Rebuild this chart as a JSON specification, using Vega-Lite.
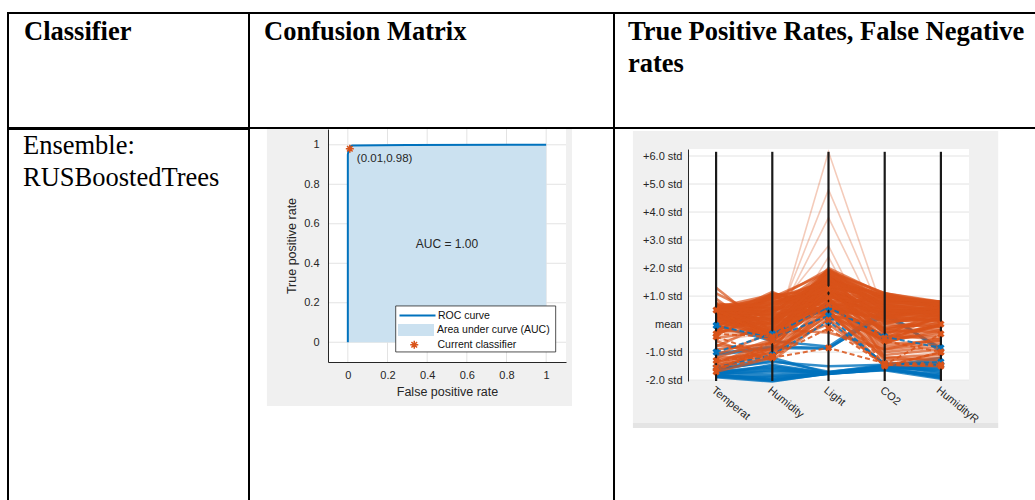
{
  "$schema": "https://vega.github.io/schema/vega-lite/v6.json",
  "padding": {"left": 7, "top": 12, "right": 0, "bottom": 0},
  "background": "white",
  "config": {"view": {"stroke": null}, "font": "Liberation Sans"},
  "datasets": {
    "roc": [
      {"fpr": 0, "tpr": 0},
      {"fpr": 0, "tpr": 0.95},
      {"fpr": 0.004, "tpr": 0.975},
      {"fpr": 0.01, "tpr": 0.99},
      {"fpr": 0.022, "tpr": 0.997},
      {"fpr": 0.3, "tpr": 0.999},
      {"fpr": 1, "tpr": 1}
    ],
    "clf": [{"fpr": 0.01, "tpr": 0.98, "label": "(0.01,0.98)"}],
    "rocgrid": [{"v": 0}, {"v": 0.2}, {"v": 0.4}, {"v": 0.6}, {"v": 0.8}, {"v": 1}],
    "pcgrid": [{"v": -2}, {"v": -1}, {"v": 0}, {"v": 1}, {"v": 2}, {"v": 3}, {"v": 4}, {"v": 5}, {"v": 6}],
    "dims": [{"dim": "T", "pos": 1}, {"dim": "H", "pos": 2}, {"dim": "L", "pos": 3}, {"dim": "C", "pos": 4}, {"dim": "R", "pos": 5}],
    "pc": [
      {"id": "b1", "c": "0", "k": "ok", "T": -1.85, "H": -2.0, "L": -1.75, "C": -1.6, "R": -1.9},
      {"id": "b2", "c": "0", "k": "ok", "T": -1.8, "H": -1.95, "L": -1.75, "C": -1.55, "R": -1.85},
      {"id": "b3", "c": "0", "k": "ok", "T": -1.75, "H": -1.8, "L": -1.75, "C": -1.5, "R": -1.7},
      {"id": "b4", "c": "0", "k": "ok", "T": -1.9, "H": -2.05, "L": -1.76, "C": -1.65, "R": -1.95},
      {"id": "b5", "c": "0", "k": "ok", "T": -1.7, "H": -1.6, "L": -1.75, "C": -1.55, "R": -1.5},
      {"id": "b6", "c": "0", "k": "ok", "T": -1.65, "H": -1.3, "L": -1.7, "C": -1.5, "R": -1.3},
      {"id": "b7", "c": "0", "k": "ok", "T": -1.8, "H": -1.45, "L": -1.75, "C": -1.6, "R": -1.6},
      {"id": "b8", "c": "0", "k": "ok", "T": -1.75, "H": -1.7, "L": -1.72, "C": -1.45, "R": -1.75},
      {"id": "b9", "c": "0", "k": "ok", "T": -1.85, "H": -1.85, "L": -1.78, "C": -1.62, "R": -1.85},
      {"id": "b10", "c": "0", "k": "ok", "T": -1.6, "H": -1.2, "L": -1.75, "C": -1.6, "R": -1.45},
      {"id": "b11", "c": "0", "k": "ok", "T": -1.1, "H": -0.85, "L": -0.88, "C": 0.4, "R": -0.9},
      {"id": "b12", "c": "0", "k": "ok", "T": -1.05, "H": -0.8, "L": -0.85, "C": 0.3, "R": -0.85},
      {"id": "b13", "c": "0", "k": "ok", "T": -0.05, "H": -0.6, "L": -0.8, "C": 0.5, "R": -1.0},
      {"id": "b14", "c": "0", "k": "ok", "T": -1.6, "H": -1.35, "L": -1.5, "C": -1.45, "R": -1.4},
      {"id": "b15", "c": "0", "k": "ok", "T": -1.7, "H": -1.5, "L": -1.75, "C": -1.5, "R": -1.2},
      {"id": "b16", "c": "0", "k": "ok", "T": -1.88, "H": -1.9, "L": -1.74, "C": -1.58, "R": -1.92},
      {"id": "b17", "c": "0", "k": "ok", "T": -1.78, "H": -1.65, "L": -1.76, "C": -1.52, "R": -1.65},
      {"id": "b18", "c": "0", "k": "ok", "T": -1.82, "H": -1.98, "L": -1.76, "C": -1.6, "R": -1.88},
      {"id": "b19", "c": "0", "k": "ok", "T": -1.72, "H": -1.55, "L": -1.74, "C": -1.56, "R": -1.55},
      {"id": "b20", "c": "0", "k": "ok", "T": -1.86, "H": -2.02, "L": -1.77, "C": -1.63, "R": -1.8},
      {"id": "o1", "c": "1", "k": "ok", "T": 0.6, "H": -0.5, "L": 1.8, "C": 0.9, "R": 0.7},
      {"id": "o2", "c": "1", "k": "ok", "T": 0.5, "H": -0.3, "L": 1.6, "C": 1.0, "R": 0.6},
      {"id": "o3", "c": "1", "k": "ok", "T": 0.4, "H": 0.9, "L": 0.5, "C": 0.2, "R": 0.3},
      {"id": "o4", "c": "1", "k": "ok", "T": -0.2, "H": 1.1, "L": 0.6, "C": -0.4, "R": 0.5},
      {"id": "o5", "c": "1", "k": "ok", "T": 0.7, "H": -0.6, "L": 1.9, "C": 1.1, "R": 0.8},
      {"id": "o6", "c": "1", "k": "ok", "T": 0.3, "H": 0.2, "L": 1.2, "C": 0.5, "R": 0.4},
      {"id": "o7", "c": "1", "k": "ok", "T": -0.1, "H": 0.8, "L": 0.9, "C": -0.2, "R": 0.2},
      {"id": "o8", "c": "1", "k": "ok", "T": 0.55, "H": -0.4, "L": 1.5, "C": 0.8, "R": 0.75},
      {"id": "o9", "c": "1", "k": "ok", "T": 0.65, "H": 0.0, "L": 1.4, "C": 0.6, "R": 0.5},
      {"id": "o10", "c": "1", "k": "ok", "T": -0.3, "H": 1.0, "L": 0.4, "C": -0.6, "R": 0.1},
      {"id": "o11", "c": "1", "k": "ok", "T": 0.1, "H": 0.5, "L": 1.0, "C": 0.3, "R": 0.6},
      {"id": "o12", "c": "1", "k": "ok", "T": 0.45, "H": -0.2, "L": 2.0, "C": 1.05, "R": 0.7},
      {"id": "o13", "c": "1", "k": "ok", "T": 1.3, "H": -0.3, "L": 1.7, "C": 0.7, "R": 0.5},
      {"id": "o14", "c": "1", "k": "ok", "T": 1.1, "H": 0.1, "L": 1.3, "C": 0.4, "R": 0.3},
      {"id": "o15", "c": "1", "k": "ok", "T": 0.9, "H": -0.5, "L": 1.6, "C": 0.9, "R": 0.65},
      {"id": "o16", "c": "1", "k": "ok", "T": -0.4, "H": 0.6, "L": 0.7, "C": -0.7, "R": 0.0},
      {"id": "o17", "c": "1", "k": "ok", "T": 0.2, "H": 1.15, "L": 0.3, "C": 0.0, "R": 0.45},
      {"id": "o18", "c": "1", "k": "ok", "T": 0.35, "H": 0.7, "L": 0.8, "C": 0.2, "R": 0.55},
      {"id": "o19", "c": "1", "k": "ok", "T": 0.6, "H": 0.3, "L": 1.1, "C": 0.75, "R": 0.8},
      {"id": "o20", "c": "1", "k": "ok", "T": 0.0, "H": 0.0, "L": 1.5, "C": 0.1, "R": 0.2},
      {"id": "o21", "c": "1", "k": "ok", "T": -0.35, "H": 0.4, "L": 1.2, "C": -0.3, "R": -0.1},
      {"id": "o22", "c": "1", "k": "ok", "T": 0.5, "H": 1.0, "L": 0.45, "C": 0.6, "R": 0.7},
      {"id": "o23", "c": "1", "k": "ok", "T": 0.7, "H": -0.1, "L": 1.85, "C": 1.1, "R": 0.6},
      {"id": "o24", "c": "1", "k": "ok", "T": 0.25, "H": 0.35, "L": 0.6, "C": -0.5, "R": 0.3},
      {"id": "o25", "c": "1", "k": "ok", "T": 0.45, "H": -0.6, "L": 1.0, "C": 0.3, "R": 0.1},
      {"id": "o26", "c": "1", "k": "ok", "T": 0.55, "H": 0.8, "L": 1.3, "C": 0.95, "R": 0.75},
      {"id": "o27", "c": "1", "k": "ok", "T": -0.2, "H": -0.4, "L": 1.7, "C": 0.5, "R": 0.4},
      {"id": "o28", "c": "1", "k": "ok", "T": 0.65, "H": 0.55, "L": 0.35, "C": -0.1, "R": 0.0},
      {"id": "o29", "c": "1", "k": "ok", "T": 0.3, "H": -0.55, "L": 1.4, "C": 0.0, "R": -0.1},
      {"id": "o30", "c": "1", "k": "ok", "T": 0.4, "H": 0.15, "L": 1.9, "C": 0.85, "R": 0.55},
      {"id": "o31", "c": "1", "k": "ok", "T": 0.15, "H": 0.95, "L": 1.0, "C": 0.4, "R": 0.65},
      {"id": "o32", "c": "1", "k": "ok", "T": 0.6, "H": 0.6, "L": 1.55, "C": 1.0, "R": 0.8},
      {"id": "o33", "c": "1", "k": "ok", "T": -0.3, "H": 0.2, "L": 0.9, "C": -0.65, "R": -0.2},
      {"id": "o34", "c": "1", "k": "ok", "T": 0.5, "H": -0.15, "L": 0.75, "C": 0.55, "R": 0.35},
      {"id": "o35", "c": "1", "k": "ok", "T": 0.75, "H": 0.4, "L": 1.75, "C": 0.7, "R": 0.45},
      {"id": "o36", "c": "1", "k": "ok", "T": 0.05, "H": 1.05, "L": 1.2, "C": 0.15, "R": 0.3},
      {"id": "o37", "c": "1", "k": "ok", "T": 0.45, "H": 0.0, "L": 0.55, "C": 0.2, "R": 0.15},
      {"id": "o38", "c": "1", "k": "ok", "T": 0.6, "H": -0.35, "L": 1.3, "C": 0.35, "R": 0.25},
      {"id": "o39", "c": "1", "k": "ok", "T": 0.35, "H": 0.5, "L": 1.65, "C": 0.65, "R": 0.55},
      {"id": "o40", "c": "1", "k": "ok", "T": -0.25, "H": 0.75, "L": 1.45, "C": 0.8, "R": 0.7},
      {"id": "o41", "c": "1", "k": "ok", "T": -1.3, "H": -0.9, "L": 0.6, "C": -0.8, "R": -0.6},
      {"id": "o42", "c": "1", "k": "ok", "T": -1.55, "H": -1.0, "L": 0.3, "C": -1.1, "R": -0.9},
      {"id": "o43", "c": "1", "k": "ok", "T": -1.7, "H": -1.2, "L": 0.9, "C": -1.3, "R": -1.2},
      {"id": "o44", "c": "1", "k": "ok", "T": -1.4, "H": -0.6, "L": 1.1, "C": -0.5, "R": -0.4},
      {"id": "o45", "c": "1", "k": "ok", "T": -0.9, "H": -0.7, "L": 0.4, "C": -1.0, "R": -0.8},
      {"id": "o46", "c": "1", "k": "ok", "T": -0.6, "H": -1.3, "L": 0.2, "C": -1.45, "R": -1.5},
      {"id": "o47", "c": "1", "k": "ok", "T": -1.1, "H": -0.3, "L": 1.3, "C": -0.2, "R": -0.3},
      {"id": "o48", "c": "1", "k": "ok", "T": -0.75, "H": -0.95, "L": 1.6, "C": -1.2, "R": -1.3},
      {"id": "o49", "c": "1", "k": "ok", "T": -1.6, "H": -0.8, "L": 0.0, "C": -1.4, "R": -1.4},
      {"id": "o50", "c": "1", "k": "ok", "T": -0.5, "H": -0.2, "L": -0.3, "C": -0.9, "R": -0.7},
      {"id": "o51", "c": "1", "k": "ok", "T": -1.2, "H": -1.1, "L": 0.5, "C": -1.5, "R": -1.0},
      {"id": "o52", "c": "1", "k": "ok", "T": -0.8, "H": 0.1, "L": 1.8, "C": -0.4, "R": -0.55},
      {"id": "o53", "c": "1", "k": "ok", "T": -0.9, "H": -0.7, "L": 6.15, "C": 0.3, "R": -0.3},
      {"id": "o54", "c": "1", "k": "ok", "T": -0.6, "H": -0.3, "L": 4.8, "C": 0.1, "R": -0.2},
      {"id": "o55", "c": "1", "k": "ok", "T": -0.4, "H": -0.2, "L": 3.8, "C": -0.3, "R": -0.5},
      {"id": "o56", "c": "1", "k": "ok", "T": -0.2, "H": 0.3, "L": 2.8, "C": -1.2, "R": -1.0},
      {"id": "o57", "c": "1", "k": "ok", "T": -1.0, "H": -0.9, "L": 2.4, "C": -1.4, "R": -1.3},
      {"id": "o58", "c": "1", "k": "ok", "T": 0.55, "H": -0.45, "L": 1.35, "C": 0.9, "R": 0.6},
      {"id": "o59", "c": "1", "k": "ok", "T": 0.4, "H": 0.65, "L": 1.7, "C": 0.3, "R": 0.5},
      {"id": "o60", "c": "1", "k": "ok", "T": 0.7, "H": 0.2, "L": 0.6, "C": 1.0, "R": 0.7},
      {"id": "o61", "c": "1", "k": "ok", "T": -0.1, "H": 0.9, "L": 1.55, "C": 0.6, "R": 0.4},
      {"id": "o62", "c": "1", "k": "ok", "T": 0.25, "H": -0.25, "L": 0.95, "C": 0.75, "R": 0.65},
      {"id": "o63", "c": "1", "k": "ok", "T": 0.6, "H": 1.05, "L": 0.85, "C": -0.3, "R": 0.2},
      {"id": "o64", "c": "1", "k": "ok", "T": 0.1, "H": -0.5, "L": 1.8, "C": 0.45, "R": 0.35},
      {"id": "o65", "c": "1", "k": "ok", "T": 0.5, "H": 0.45, "L": 1.45, "C": 1.1, "R": 0.75},
      {"id": "o66", "c": "1", "k": "ok", "T": -0.15, "H": 0.1, "L": 0.55, "C": 0.25, "R": 0.55},
      {"id": "o67", "c": "1", "k": "ok", "T": 0.65, "H": -0.2, "L": 1.15, "C": -0.2, "R": 0.1},
      {"id": "o68", "c": "1", "k": "ok", "T": 0.3, "H": 0.85, "L": 1.95, "C": 0.9, "R": 0.6},
      {"id": "o69", "c": "1", "k": "ok", "T": 0.45, "H": 0.3, "L": 0.4, "C": 0.5, "R": 0.45},
      {"id": "o70", "c": "1", "k": "ok", "T": 0.2, "H": -0.6, "L": 1.6, "C": 0.95, "R": 0.8},
      {"id": "o71", "c": "1", "k": "ok", "T": 0.7, "H": 0.7, "L": 1.25, "C": 0.05, "R": 0.25},
      {"id": "o72", "c": "1", "k": "ok", "T": -0.3, "H": -0.1, "L": 1.05, "C": 0.65, "R": 0.5},
      {"id": "o73", "c": "1", "k": "ok", "T": 0.5, "H": 0.95, "L": 1.85, "C": 0.4, "R": 0.3},
      {"id": "o74", "c": "1", "k": "ok", "T": 0.35, "H": -0.3, "L": 0.7, "C": -0.45, "R": -0.05},
      {"id": "o75", "c": "1", "k": "ok", "T": 0.6, "H": 0.05, "L": 1.6, "C": 0.7, "R": 0.7},
      {"id": "o76", "c": "1", "k": "ok", "T": 0.15, "H": 0.6, "L": 0.45, "C": 0.85, "R": 0.6},
      {"id": "o77", "c": "1", "k": "ok", "T": 0.55, "H": -0.55, "L": 1.1, "C": 0.55, "R": 0.4},
      {"id": "o78", "c": "1", "k": "ok", "T": 0.4, "H": 0.4, "L": 1.75, "C": 1.0, "R": 0.65},
      {"id": "o79", "c": "1", "k": "ok", "T": -0.05, "H": 1.1, "L": 0.7, "C": 0.1, "R": 0.15},
      {"id": "o80", "c": "1", "k": "ok", "T": 0.7, "H": -0.35, "L": 1.45, "C": 0.25, "R": 0.55},
      {"id": "o81", "c": "1", "k": "ok", "T": 0.3, "H": 0.15, "L": 0.3, "C": -0.55, "R": 0.0},
      {"id": "o82", "c": "1", "k": "ok", "T": 0.5, "H": 0.75, "L": 1.2, "C": 0.75, "R": 0.75},
      {"id": "o83", "c": "1", "k": "ok", "T": 0.25, "H": -0.4, "L": 1.95, "C": 0.6, "R": 0.45},
      {"id": "o84", "c": "1", "k": "ok", "T": 0.65, "H": 0.35, "L": 0.9, "C": 0.35, "R": 0.6},
      {"id": "o85", "c": "1", "k": "ok", "T": -0.2, "H": 0.5, "L": 1.35, "C": 1.05, "R": 0.7},
      {"id": "o86", "c": "1", "k": "ok", "T": 0.45, "H": -0.05, "L": 1.7, "C": -0.15, "R": 0.2},
      {"id": "o87", "c": "1", "k": "ok", "T": 0.05, "H": 0.25, "L": 0.65, "C": 0.5, "R": 0.35},
      {"id": "o88", "c": "1", "k": "ok", "T": 0.6, "H": 0.9, "L": 1.5, "C": 0.2, "R": 0.5},
      {"id": "o89", "c": "1", "k": "ok", "T": 0.35, "H": -0.6, "L": 0.8, "C": 0.9, "R": 0.8},
      {"id": "o90", "c": "1", "k": "ok", "T": 0.5, "H": 0.55, "L": 1.9, "C": 0.5, "R": 0.4},
      {"id": "o91", "c": "1", "k": "ok", "T": -1.5, "H": -0.7, "L": 0.8, "C": -0.6, "R": -0.3},
      {"id": "o92", "c": "1", "k": "ok", "T": -1.35, "H": -1.0, "L": 0.45, "C": -0.9, "R": -0.5},
      {"id": "o93", "c": "1", "k": "ok", "T": -1.65, "H": -0.85, "L": 1.2, "C": -0.3, "R": -0.2},
      {"id": "o94", "c": "1", "k": "ok", "T": -1.2, "H": -0.55, "L": 0.65, "C": -0.7, "R": -0.6},
      {"id": "o95", "c": "1", "k": "ok", "T": -1.45, "H": -1.15, "L": 0.35, "C": -1.2, "R": -1.1},
      {"id": "bd1", "c": "0", "k": "mis", "T": -1.0, "H": -0.35, "L": 0.6, "C": -0.45, "R": -0.85},
      {"id": "bd2", "c": "0", "k": "mis", "T": -0.05, "H": -0.5, "L": 0.3, "C": -1.45, "R": -1.35},
      {"id": "bd3", "c": "0", "k": "mis", "T": -1.55, "H": -1.1, "L": 0.1, "C": -1.4, "R": -1.45},
      {"id": "od1", "c": "1", "k": "mis", "T": 0.5, "H": -0.5, "L": 1.25, "C": -0.6, "R": -1.0},
      {"id": "od2", "c": "1", "k": "mis", "T": -0.35, "H": -0.45, "L": 0.95, "C": -1.45, "R": -1.5},
      {"id": "od3", "c": "1", "k": "mis", "T": -1.3, "H": -1.15, "L": -0.15, "C": -1.45, "R": -0.35},
      {"id": "od4", "c": "1", "k": "mis", "T": -1.55, "H": -1.2, "L": -0.85, "C": -1.4, "R": -1.45},
      {"id": "od5", "c": "1", "k": "mis", "T": -1.7, "H": -0.6, "L": 0.7, "C": -0.5, "R": 0.0},
      {"id": "od6", "c": "1", "k": "mis", "T": -0.45, "H": -1.15, "L": 0.15, "C": -1.5, "R": -1.0}
    ]
  },
  "spacing": -2,
  "bounds": "full",
  "resolve": {"scale": {"color": "independent", "fill": "independent", "stroke": "independent", "shape": "independent", "x": "independent", "y": "independent"}, "legend": {"color": "independent", "fill": "independent", "stroke": "independent", "shape": "independent"}},
  "vconcat": [
    {
      "spacing": 0,
      "bounds": "flush",
      "hconcat": [
        {
          "width": 241, "height": 115,
          "view": {"stroke": "black", "strokeWidth": 2},
          "data": {"values": [{"label": "Classifier"}]},
          "mark": {"type": "text", "align": "left", "baseline": "alphabetic", "font": "Liberation Serif", "fontSize": 26.5, "fontWeight": "bold", "lineHeight": 32, "dx": 16, "dy": 27, "color": "black"},
          "encoding": {
            "text": {"field": "label"},
            "x": {"datum": 0, "type": "quantitative", "scale": {"domain": [0, 1]}, "axis": null},
            "y": {"datum": 1, "type": "quantitative", "scale": {"domain": [0, 1]}, "axis": null}
          }
        },
        {
          "width": 365, "height": 115,
          "view": {"stroke": "black", "strokeWidth": 2},
          "data": {"values": [{"label": "Confusion Matrix"}]},
          "mark": {"type": "text", "align": "left", "baseline": "alphabetic", "font": "Liberation Serif", "fontSize": 26.5, "fontWeight": "bold", "lineHeight": 32, "dx": 15, "dy": 27, "color": "black"},
          "encoding": {
            "text": {"field": "label"},
            "x": {"datum": 0, "type": "quantitative", "scale": {"domain": [0, 1]}, "axis": null},
            "y": {"datum": 1, "type": "quantitative", "scale": {"domain": [0, 1]}, "axis": null}
          }
        },
        {
          "width": 440, "height": 115,
          "view": {"stroke": "black", "strokeWidth": 2},
          "data": {"values": [{"label": ["True Positive Rates, False Negative", "rates"]}]},
          "mark": {"type": "text", "align": "left", "baseline": "alphabetic", "font": "Liberation Serif", "fontSize": 26.5, "fontWeight": "bold", "lineHeight": 32, "dx": 14, "dy": 27, "color": "black"},
          "encoding": {
            "text": {"field": "label"},
            "x": {"datum": 0, "type": "quantitative", "scale": {"domain": [0, 1]}, "axis": null},
            "y": {"datum": 1, "type": "quantitative", "scale": {"domain": [0, 1]}, "axis": null}
          }
        }
      ]
    },
    {
      "spacing": 79,
      "bounds": "flush",
      "resolve": {"scale": {"color": "independent", "fill": "independent", "stroke": "independent", "shape": "independent"}, "legend": {"color": "independent", "fill": "independent", "stroke": "independent", "shape": "independent"}},
      "hconcat": [
        {
          "width": 241, "height": 400,
          "view": {"stroke": "black", "strokeWidth": 2},
          "data": {"values": [{"label": ["Ensemble:", "RUSBoostedTrees"]}]},
          "mark": {"type": "text", "align": "left", "baseline": "alphabetic", "font": "Liberation Serif", "fontSize": 26.5, "fontWeight": "normal", "lineHeight": 32, "dx": 15, "dy": 25, "color": "black"},
          "encoding": {
            "text": {"field": "label"},
            "x": {"datum": 0, "type": "quantitative", "scale": {"domain": [0, 1]}, "axis": null},
            "y": {"datum": 1, "type": "quantitative", "scale": {"domain": [0, 1]}, "axis": null}
          }
        },
        {
          "spacing": 48,
          "bounds": "flush",
          "resolve": {"scale": {"color": "independent", "fill": "independent", "stroke": "independent", "shape": "independent"}, "legend": {"color": "independent", "fill": "independent", "stroke": "independent", "shape": "independent"}},
          "hconcat": [
            {
              "width": 238, "height": 233,
              "layer": [
                {
                  "data": {"values": [{}]},
                  "mark": {"type": "rect", "fill": "#f0f0f0"},
                  "encoding": {
                    "x": {"datum": -0.408, "type": "quantitative", "scale": {"domain": [-0.1, 1.1], "nice": false, "zero": false}},
                    "x2": {"datum": 1.13},
                    "y": {"datum": -0.3225, "type": "quantitative", "scale": {"domain": [-0.1, 1.08], "nice": false, "zero": false}},
                    "y2": {"datum": 1.08}
                  }
                },
                {
                  "data": {"values": [{}]},
                  "mark": {"type": "rect", "fill": "white"},
                  "encoding": {
                    "x": {"datum": -0.1, "type": "quantitative"}, "x2": {"datum": 1.1},
                    "y": {"datum": -0.1, "type": "quantitative"}, "y2": {"datum": 1.08}
                  }
                },
                {
                  "data": {"name": "rocgrid"},
                  "mark": {"type": "rule", "color": "#e3e3e3", "strokeWidth": 1},
                  "encoding": {
                    "x": {"field": "v", "type": "quantitative", "title": "False positive rate",
                      "axis": {"title": "False positive rate", "values": [0, 0.2, 0.4, 0.6, 0.8, 1], "tickCount": 6, "format": "~g", "grid": false, "ticks": false, "zindex": 1, "domainColor": "#262626", "labelColor": "#262626", "titleColor": "#262626", "labelFont": "Liberation Sans", "titleFont": "Liberation Sans", "labelFontSize": 11, "titleFontSize": 12.5, "titleFontWeight": "normal", "labelPadding": 7, "titlePadding": 5, "labelFlush": false, "labelOverlap": false}},
                    "y": {"datum": -0.1, "type": "quantitative"}, "y2": {"datum": 1.08}
                  }
                },
                {
                  "data": {"name": "rocgrid"},
                  "mark": {"type": "rule", "color": "#e3e3e3", "strokeWidth": 1},
                  "encoding": {
                    "y": {"field": "v", "type": "quantitative", "title": "True positive rate",
                      "axis": {"title": "True positive rate", "values": [0, 0.2, 0.4, 0.6, 0.8, 1], "tickCount": 6, "format": "~g", "grid": false, "ticks": false, "zindex": 1, "domainColor": "#262626", "labelColor": "#262626", "titleColor": "#262626", "labelFont": "Liberation Sans", "titleFont": "Liberation Sans", "labelFontSize": 11, "titleFontSize": 12.5, "titleFontWeight": "normal", "labelPadding": 9, "titlePadding": 5, "labelFlush": false, "labelOverlap": false}},
                    "x": {"datum": -0.1, "type": "quantitative"}, "x2": {"datum": 1.1}
                  }
                },
                {
                  "data": {"name": "roc"},
                  "mark": {"type": "area", "opacity": 1},
                  "encoding": {
                    "x": {"field": "fpr", "type": "quantitative", "title": "False positive rate"},
                    "y": {"field": "tpr", "type": "quantitative", "title": "True positive rate"},
                    "fill": {"datum": "Area under curve (AUC)", "type": "nominal",
                      "scale": {"range": ["#cbe1f0"]},
                      "legend": {"orient": "none", "legendX": 70, "legendY": 183, "title": null, "padding": 0, "symbolType": "M-1,-0.33H1V0.33H-1Z", "symbolSize": 1296, "symbolStrokeWidth": 0, "symbolOpacity": 1, "labelOffset": 3, "labelFont": "Liberation Sans", "labelFontSize": 10.5, "labelColor": "#111111", "labelLimit": 200}}
                  }
                },
                {
                  "data": {"name": "roc"},
                  "mark": {"type": "line", "strokeWidth": 2},
                  "encoding": {
                    "x": {"field": "fpr", "type": "quantitative", "title": "False positive rate"},
                    "y": {"field": "tpr", "type": "quantitative", "title": "True positive rate"},
                    "stroke": {"datum": "ROC curve", "type": "nominal",
                      "scale": {"range": ["#0072bd"]},
                      "legend": {"orient": "none", "legendX": 70, "legendY": 167, "title": null, "padding": 0, "symbolType": "stroke", "symbolSize": 1296, "symbolStrokeWidth": 2.2, "symbolOpacity": 1, "labelOffset": 1, "labelFont": "Liberation Sans", "labelFontSize": 10.5, "labelColor": "#111111", "labelLimit": 200}}
                  }
                },
                {
                  "data": {"values": [{}]},
                  "mark": {"type": "rect", "fill": "white", "stroke": "#262626", "strokeWidth": 0.8},
                  "encoding": {
                    "x": {"datum": 0.2414, "type": "quantitative"}, "x2": {"datum": 1.048},
                    "y": {"datum": -0.0491, "type": "quantitative"}, "y2": {"datum": 0.1838}
                  }
                },
                {
                  "data": {"name": "clf"},
                  "mark": {"type": "point", "filled": false, "color": "#d95319", "size": 64, "strokeWidth": 1.5, "opacity": 1},
                  "encoding": {
                    "x": {"field": "fpr", "type": "quantitative", "title": "False positive rate"},
                    "y": {"field": "tpr", "type": "quantitative", "title": "True positive rate"},
                    "shape": {"datum": "Current classifier", "type": "nominal",
                      "scale": {"range": ["M-1,0H1M0,-1V1M-0.7,-0.7L0.7,0.7M-0.7,0.7L0.7,-0.7"]},
                      "legend": {"orient": "none", "legendX": 81, "legendY": 210.5, "title": null, "padding": 0, "symbolSize": 64, "symbolStrokeColor": "#d95319", "symbolStrokeWidth": 1.5, "symbolFillColor": "transparent", "symbolOpacity": 1, "labelOffset": 18, "labelFont": "Liberation Sans", "labelFontSize": 10.5, "labelColor": "#111111", "labelLimit": 200}}
                  }
                },
                {
                  "data": {"name": "clf"},
                  "mark": {"type": "text", "align": "left", "baseline": "middle", "dx": 7, "dy": 10, "fontSize": 11.5, "color": "#262626"},
                  "encoding": {
                    "x": {"field": "fpr", "type": "quantitative", "title": "False positive rate"},
                    "y": {"field": "tpr", "type": "quantitative", "title": "True positive rate"},
                    "text": {"field": "label"}
                  }
                },
                {
                  "data": {"values": [{"label": "AUC = 1.00"}]},
                  "mark": {"type": "text", "align": "center", "baseline": "middle", "fontSize": 12, "color": "#262626"},
                  "encoding": {
                    "x": {"datum": 0.5, "type": "quantitative"},
                    "y": {"datum": 0.5, "type": "quantitative"},
                    "text": {"field": "label"}
                  }
                }
              ]
            },
            {
              "spacing": 73,
              "bounds": "flush",
              "resolve": {"scale": {"color": "independent", "fill": "independent", "stroke": "independent", "shape": "independent"}, "legend": {"color": "independent", "fill": "independent", "stroke": "independent", "shape": "independent"}},
              "hconcat": [
                {
                  "width": 0.01, "height": 400,
                  "view": {"stroke": "black", "strokeWidth": 2},
                  "data": {"values": []},
                  "mark": "point"
                },
                {
                  "spacing": 19,
                  "bounds": "flush",
                  "vconcat": [
                    {"width": 10, "height": 1, "data": {"values": []}, "mark": "point"},
                    {
                      "width": 281, "height": 232,
                      "layer": [
                        {
                          "data": {"values": [{}]},
                          "mark": {"type": "rect", "fill": "#f0f0f0"},
                          "encoding": {
                            "x": {"datum": -0.48, "type": "quantitative", "scale": {"domain": [0.5, 5.5], "nice": false, "zero": false}},
                            "x2": {"datum": 6.02},
                            "y": {"datum": -3.53, "type": "quantitative", "scale": {"domain": [-2.03, 6.25], "nice": false, "zero": false}},
                            "y2": {"datum": 6.89}
                          }
                        },
                        {
                          "data": {"values": [{}]},
                          "mark": {"type": "rect", "fill": "#e4e4e4"},
                          "encoding": {
                            "x": {"datum": -0.48, "type": "quantitative"}, "x2": {"datum": 6.02},
                            "y": {"datum": -3.71, "type": "quantitative"}, "y2": {"datum": -3.53}
                          }
                        },
                        {
                          "data": {"values": [{}]},
                          "mark": {"type": "rect", "fill": "white"},
                          "encoding": {
                            "x": {"datum": 0.5, "type": "quantitative"}, "x2": {"datum": 5.5},
                            "y": {"datum": -2.03, "type": "quantitative"}, "y2": {"datum": 6.25}
                          }
                        },
                        {
                          "data": {"name": "pcgrid"},
                          "mark": {"type": "rule", "color": "#e3e3e3", "strokeWidth": 1},
                          "encoding": {
                            "y": {"field": "v", "type": "quantitative", "title": null,
                              "axis": {"title": null, "values": [-2, -1, 0, 1, 2, 3, 4, 5, 6], "tickCount": 9, "labelExpr": "datum.value == 0 ? 'mean' : (datum.value > 0 ? '+' : '-') + format(abs(datum.value), '.1f') + ' std'", "ticks": false, "grid": false, "zindex": 1, "domainColor": "#262626", "labelColor": "#262626", "labelFont": "Liberation Sans", "labelFontSize": 11, "labelPadding": 6, "labelFlush": false, "labelOverlap": false}},
                            "x": {"datum": 0.5, "type": "quantitative"}, "x2": {"datum": 5.5}
                          }
                        },
                        {
                          "data": {"name": "pc"},
                          "transform": [
                            {"filter": "datum.c == '0' && datum.k == 'ok'"},
                            {"fold": ["T", "H", "L", "C", "R"], "as": ["dim", "v"]},
                            {"lookup": "dim", "from": {"data": {"name": "dims"}, "key": "dim", "fields": ["pos"]}}
                          ],
                          "mark": {"type": "line", "strokeWidth": 2.5, "opacity": 0.8},
                          "encoding": {
                            "x": {"field": "pos", "type": "quantitative", "title": null},
                            "y": {"field": "v", "type": "quantitative", "title": null},
                            "detail": {"field": "id", "type": "nominal"},
                            "color": {"field": "c", "type": "nominal", "scale": {"domain": ["0", "1"], "range": ["#0072bd", "#d95319"]}, "legend": null}
                          }
                        },
                        {
                          "data": {"name": "pc"},
                          "transform": [
                            {"filter": "datum.c == '1' && datum.k == 'ok' && datum.L > 2.2"},
                            {"fold": ["T", "H", "L", "C", "R"], "as": ["dim", "v"]},
                            {"lookup": "dim", "from": {"data": {"name": "dims"}, "key": "dim", "fields": ["pos"]}}
                          ],
                          "mark": {"type": "line", "strokeWidth": 1.6, "opacity": 0.3},
                          "encoding": {
                            "x": {"field": "pos", "type": "quantitative", "title": null},
                            "y": {"field": "v", "type": "quantitative", "title": null},
                            "detail": {"field": "id", "type": "nominal"},
                            "color": {"field": "c", "type": "nominal", "legend": null}
                          }
                        },
                        {
                          "data": {"name": "pc"},
                          "transform": [
                            {"filter": "datum.c == '1' && datum.k == 'ok' && datum.L <= 2.2"},
                            {"fold": ["T", "H", "L", "C", "R"], "as": ["dim", "v"]},
                            {"lookup": "dim", "from": {"data": {"name": "dims"}, "key": "dim", "fields": ["pos"]}}
                          ],
                          "mark": {"type": "line", "strokeWidth": 2.6, "opacity": 0.7},
                          "encoding": {
                            "x": {"field": "pos", "type": "quantitative", "title": null},
                            "y": {"field": "v", "type": "quantitative", "title": null},
                            "detail": {"field": "id", "type": "nominal"},
                            "color": {"field": "c", "type": "nominal", "legend": null}
                          }
                        },
                        {
                          "data": {"name": "dims"},
                          "mark": {"type": "rule", "color": "#1a1a1a", "strokeWidth": 2.2},
                          "encoding": {
                            "x": {"field": "pos", "type": "quantitative", "title": null,
                              "axis": {"title": null, "values": [1, 2, 3, 4, 5], "tickCount": 5, "labelExpr": "['', 'Temperat', 'Humidity', 'Light', 'CO2', 'HumidityR'][datum.value]", "labelAngle": 39, "labelAlign": "left", "labelBaseline": "top", "ticks": false, "domain": false, "grid": false, "zindex": 1, "labelColor": "#262626", "labelFont": "Liberation Sans", "labelFontSize": 11, "labelPadding": 3, "labelFlush": false, "labelOverlap": false, "labelBound": false}},
                            "y": {"datum": -2.03, "type": "quantitative"}, "y2": {"datum": 6.15}
                          }
                        },
                        {
                          "data": {"name": "pc"},
                          "transform": [
                            {"filter": "datum.k == 'mis'"},
                            {"fold": ["T", "H", "L", "C", "R"], "as": ["dim", "v"]},
                            {"lookup": "dim", "from": {"data": {"name": "dims"}, "key": "dim", "fields": ["pos"]}}
                          ],
                          "mark": {"type": "line", "strokeWidth": 2, "opacity": 0.85, "strokeDash": [5, 3]},
                          "encoding": {
                            "x": {"field": "pos", "type": "quantitative", "title": null},
                            "y": {"field": "v", "type": "quantitative", "title": null},
                            "detail": {"field": "id", "type": "nominal"},
                            "color": {"field": "c", "type": "nominal", "legend": null}
                          }
                        },
                        {
                          "data": {"name": "pc"},
                          "transform": [
                            {"filter": "datum.k == 'mis'"},
                            {"fold": ["T", "H", "L", "C", "R"], "as": ["dim", "v"]},
                            {"lookup": "dim", "from": {"data": {"name": "dims"}, "key": "dim", "fields": ["pos"]}}
                          ],
                          "mark": {"type": "point", "shape": "cross", "angle": 45, "filled": true, "size": 55, "opacity": 1},
                          "encoding": {
                            "x": {"field": "pos", "type": "quantitative", "title": null},
                            "y": {"field": "v", "type": "quantitative", "title": null},
                            "color": {"field": "c", "type": "nominal", "legend": null}
                          }
                        }
                      ]
                    }
                  ]
                }
              ]
            }
          ]
        }
      ]
    }
  ]
}
